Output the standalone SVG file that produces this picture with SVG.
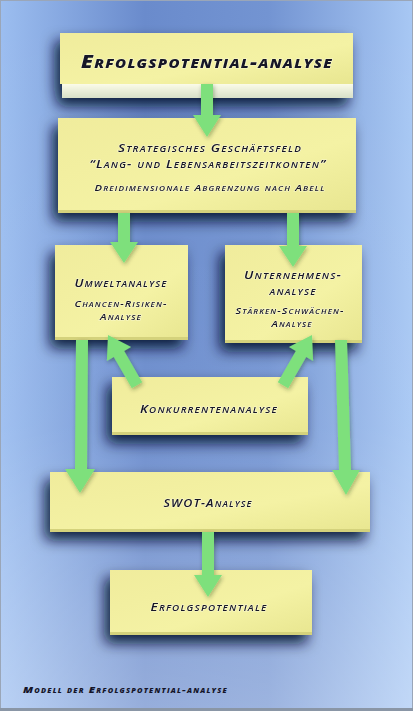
<svg xmlns="http://www.w3.org/2000/svg" width="413" height="711" viewBox="0 0 413 711">
<defs>
<linearGradient id="bgH" x1="0" y1="0" x2="1" y2="0">
<stop offset="0" stop-color="#9cbef0"/>
<stop offset="0.35" stop-color="#6a8bcc"/>
<stop offset="0.65" stop-color="#7394d2"/>
<stop offset="1" stop-color="#a8c8f4"/>
</linearGradient>
<linearGradient id="bgV" x1="0" y1="0" x2="0" y2="1">
<stop offset="0" stop-color="#ffffff" stop-opacity="0"/>
<stop offset="0.6" stop-color="#ffffff" stop-opacity="0.05"/>
<stop offset="1" stop-color="#ffffff" stop-opacity="0.3"/>
</linearGradient>
<linearGradient id="box" x1="0" y1="0" x2="1" y2="1">
<stop offset="0" stop-color="#f0ec9c"/>
<stop offset="0.6" stop-color="#f4f2a4"/>
<stop offset="1" stop-color="#e8e690"/>
</linearGradient>
<linearGradient id="slab" x1="0" y1="0" x2="0" y2="1">
<stop offset="0" stop-color="#fbfbe8"/>
<stop offset="1" stop-color="#d8e0c8"/>
</linearGradient>
<filter id="sh" x="-30%" y="-30%" width="160%" height="170%">
<feGaussianBlur in="SourceAlpha" stdDeviation="7"/>
<feOffset dx="-5" dy="8" result="b"/>
<feFlood flood-color="#06102e" flood-opacity="0.9"/>
<feComposite in2="b" operator="in"/>
<feMerge><feMergeNode/><feMergeNode in="SourceGraphic"/></feMerge>
</filter>
<filter id="ash" x="-50%" y="-20%" width="200%" height="140%">
<feGaussianBlur in="SourceAlpha" stdDeviation="2"/>
<feOffset dx="1" dy="2" result="b"/>
<feFlood flood-color="#1a3010" flood-opacity="0.35"/>
<feComposite in2="b" operator="in"/>
<feMerge><feMergeNode/><feMergeNode in="SourceGraphic"/></feMerge>
</filter>
</defs>
<style>
.bx{fill:url(#box);}
.edge{fill:#d4d27c;}
.t{font-family:"Open Sans","DejaVu Sans",sans-serif;font-style:italic;font-weight:600;font-variant:small-caps;fill:#141428;text-anchor:middle;letter-spacing:1px;stroke:#ffffff;stroke-opacity:0.45;stroke-width:1.2px;paint-order:stroke;}
.big{font-size:17px;font-weight:800;}
.m{font-size:11px;}
.s{font-size:9.5px;}
.ar{fill:#7ee07c;}
</style>
<rect x="0" y="0" width="413" height="711" fill="url(#bgH)"/>
<rect x="0" y="0" width="413" height="711" fill="url(#bgV)"/>
<rect x="0.5" y="0.5" width="412" height="708" fill="none" stroke="#9aa6b8" stroke-width="1"/>
<rect x="0" y="708" width="413" height="3" fill="#8a96a6"/>

<g id="n-top" filter="url(#sh)">
<rect x="60" y="33" width="293" height="51" class="bx"/>
<rect x="62" y="84" width="291" height="14" fill="url(#slab)"/>
<text class="t big" x="207" y="68" textLength="252" lengthAdjust="spacingAndGlyphs">Erfolgspotential-analyse</text>
</g>

<g id="n-strat" filter="url(#sh)">
<rect x="58" y="118" width="298" height="95" class="bx"/>
<rect x="58" y="210" width="298" height="3" class="edge"/>
<text class="t m" x="210" y="152" textLength="184" lengthAdjust="spacingAndGlyphs">Strategisches Geschäftsfeld</text>
<text class="t m" x="208" y="168" textLength="237" lengthAdjust="spacingAndGlyphs">“Lang- und Lebensarbeitszeitkonten”</text>
<text class="t s" x="210" y="191" textLength="231" lengthAdjust="spacingAndGlyphs">Dreidimensionale Abgrenzung nach Abell</text>
</g>

<g id="n-umwelt" filter="url(#sh)">
<rect x="55" y="245" width="133" height="95" class="bx"/>
<rect x="55" y="337" width="133" height="3" class="edge"/>
<text class="t m" x="121" y="287" textLength="93" lengthAdjust="spacingAndGlyphs">Umweltanalyse</text>
<text class="t s" x="121" y="307" textLength="93" lengthAdjust="spacingAndGlyphs">Chancen-Risiken-</text>
<text class="t s" x="121" y="320" textLength="42" lengthAdjust="spacingAndGlyphs">Analyse</text>
</g>

<g id="n-untern" filter="url(#sh)">
<rect x="225" y="245" width="137" height="98" class="bx"/>
<rect x="225" y="340" width="137" height="3" class="edge"/>
<text class="t m" x="293" y="279" textLength="98" lengthAdjust="spacingAndGlyphs">Unternehmens-</text>
<text class="t m" x="293" y="295" textLength="47" lengthAdjust="spacingAndGlyphs">analyse</text>
<text class="t s" x="290" y="314" textLength="109" lengthAdjust="spacingAndGlyphs">Stärken-Schwächen-</text>
<text class="t s" x="292" y="327" textLength="41" lengthAdjust="spacingAndGlyphs">Analyse</text>
</g>

<g id="n-konk" filter="url(#sh)">
<rect x="112" y="377" width="196" height="58" class="bx"/>
<rect x="112" y="432" width="196" height="3" class="edge"/>
<text class="t m" x="209" y="413" textLength="138" lengthAdjust="spacingAndGlyphs">Konkurrentenanalyse</text>
</g>

<g id="n-swot" filter="url(#sh)">
<rect x="50" y="472" width="320" height="60" class="bx"/>
<rect x="50" y="529" width="320" height="3" class="edge"/>
<text class="t m" x="208" y="507" textLength="89" lengthAdjust="spacingAndGlyphs">SWOT-Analyse</text>
</g>

<g id="n-erfolg" filter="url(#sh)">
<rect x="110" y="570" width="202" height="65" class="bx"/>
<rect x="110" y="632" width="202" height="3" class="edge"/>
<text class="t m" x="209" y="611" textLength="117" lengthAdjust="spacingAndGlyphs">Erfolgspotentiale</text>
</g>

<g id="connectors" filter="url(#ash)">
<polygon class="ar" points="201,84 213,84 213,115 221,115 207,137 193,115 201,115"/>
<polygon class="ar" points="118,213 130,213 130,242 138,242 124,263 110,242 118,242"/>
<polygon class="ar" points="287,213 299,213 299,246 307,246 293,267 279,246 287,246"/>
<polygon class="ar" points="0,0 14,22 6,22 6,58 -6,58 -6,22 -14,22" transform="translate(108,335) rotate(-30)"/>
<polygon class="ar" points="0,0 14,22 6,22 6,58 -6,58 -6,22 -14,22" transform="translate(312,335) rotate(30)"/>
<polygon class="ar" points="76,340 88,340 87,469 95,469 80,493 65,469 75,469"/>
<polygon class="ar" points="335,340 347,340 351,470 360,470 346,495 332,470 339,470"/>
<polygon class="ar" points="202,532 214,532 214,575 222,575 208,597 194,575 202,575"/>
</g>

<text id="caption" class="t" x="23" y="693" style="font-size:9px;font-weight:800;text-anchor:start;stroke:none" textLength="205" lengthAdjust="spacingAndGlyphs">Modell der Erfolgspotential-analyse</text>
</svg>
